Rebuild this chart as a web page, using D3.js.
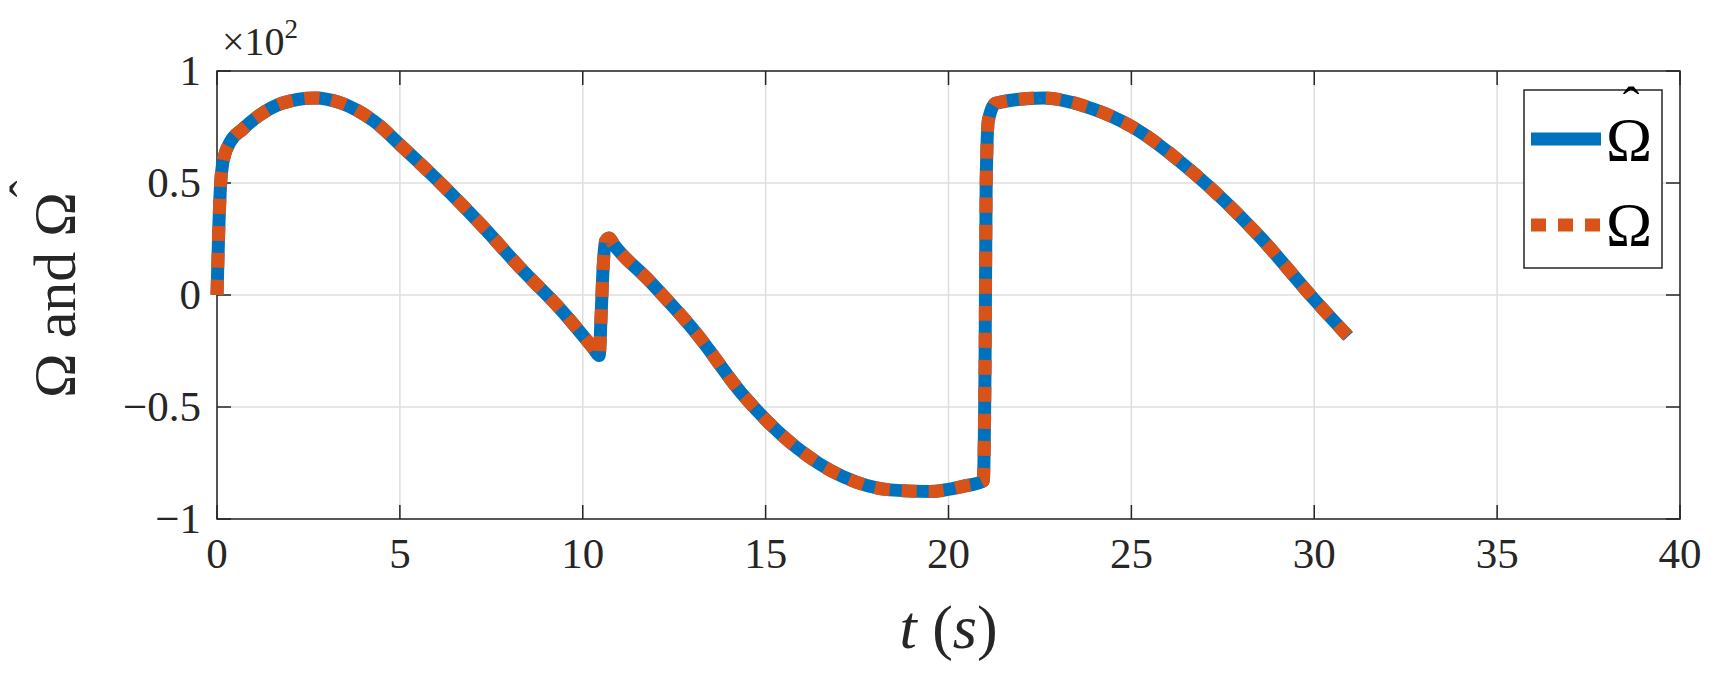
<!DOCTYPE html>
<html><head><meta charset="utf-8">
<script src="https://cdn.jsdelivr.net/npm/d3@7"></script>
<style>body{margin:0;background:#fff}</style></head>
<body><svg id="c" width="1717" height="679"></svg>
<script>
const tVals = [0,0.05,0.1,0.15,0.2,0.35,0.7,1.14,1.8,2.67,3.4,4.3,5.1,6.2,7.26,8.3,9.4,10.3,10.45,10.5,10.55,10.62,10.72,10.85,11.78,13.1,14.4,15.8,17.1,18.4,19.5,20.4,20.95,21.0,21.03,21.09,21.3,22.6,23.96,25,26.7,28.5,30,30.93];
const omegaVals = [0,0.3,0.5,0.58,0.62,0.68,0.74,0.80,0.857,0.88,0.857,0.775,0.656,0.485,0.307,0.12,-0.065,-0.24,-0.27,-0.1,0.1,0.24,0.255,0.225,0.07,-0.17,-0.45,-0.675,-0.81,-0.87,-0.877,-0.854,-0.83,-0.3,0.5,0.78,0.857,0.88,0.83,0.753,0.545,0.262,-0.02,-0.185];
const xTicks = [0,5,10,15,20,25,30,35,40];
const yTicks = [-1,-0.5,0,0.5,1];
const yTickLabels = ["\u22121","\u22120.5","0","0.5","1"];
const seriesNames = ["\u03A9","\u03A9"];

const svg = d3.select("#c");
const L=217,R=1680,T=71,B=519;
const x=d3.scaleLinear().domain([0,40]).range([L,R]);
const y=d3.scaleLinear().domain([-1,1]).range([B,T]);
const font="'Liberation Serif', 'DejaVu Serif', serif";
const g=svg.append("g");
g.selectAll(".gx").data(xTicks).enter().append("line").attr("x1",d=>x(d)).attr("x2",d=>x(d)).attr("y1",T).attr("y2",B).attr("stroke","#dedede").attr("stroke-width",1.5);
g.selectAll(".gy").data(yTicks).enter().append("line").attr("y1",d=>y(d)).attr("y2",d=>y(d)).attr("x1",L).attr("x2",R).attr("stroke","#dedede").attr("stroke-width",1.5);
const tl=14;
xTicks.forEach(d=>{[[B,B-tl],[T,T+tl]].forEach(p=>g.append("line").attr("x1",x(d)).attr("x2",x(d)).attr("y1",p[0]).attr("y2",p[1]).attr("stroke","#262626").attr("stroke-width",1.5));});
yTicks.forEach(d=>{[[L,L+tl],[R,R-tl]].forEach(p=>g.append("line").attr("y1",y(d)).attr("y2",y(d)).attr("x1",p[0]).attr("x2",p[1]).attr("stroke","#262626").attr("stroke-width",1.5));});
g.append("rect").attr("x",L).attr("y",T).attr("width",R-L).attr("height",B-T).attr("fill","none").attr("stroke","#262626").attr("stroke-width",1.5);
g.selectAll(".xl").data(xTicks).enter().append("text").attr("x",d=>x(d)).attr("y",568).attr("text-anchor","middle").attr("font-family",font).attr("font-size",43).attr("fill","#262626").text(d=>d);
g.selectAll(".yl").data(yTicks).enter().append("text").attr("x",L-16).attr("y",d=>y(d)+14).attr("text-anchor","end").attr("font-family",font).attr("font-size",43).attr("fill","#262626").text((d,i)=>yTickLabels[i]);
g.append("text").attr("x",222).attr("y",55).attr("font-family",font).attr("font-size",40).attr("fill","#262626").text("\u00D710").append("tspan").attr("dy",-17).attr("font-size",27).text("2");
g.append("text").attr("x",(L+R)/2).attr("y",648).attr("text-anchor","middle").attr("font-family",font).attr("font-size",62).attr("fill","#262626").html("<tspan font-style='italic'>t</tspan> (<tspan font-style='italic'>s</tspan>)");
const yl=g.append("g").attr("transform",`translate(75,${(T+B)/2}) rotate(-90)`);
yl.append("text").attr("text-anchor","middle").attr("font-family",font).attr("font-size",60).attr("fill","#262626").text("\u03A9 and \u03A9");
yl.append("text").attr("x",106).attr("y",-30).attr("text-anchor","middle").attr("font-family",font).attr("font-size",50).attr("fill","#262626").text("\u02C6");
const data=tVals.map((t,i)=>[t,omegaVals[i]]);
const line=d3.line().x(d=>x(d[0])).y(d=>y(d[1])).curve(d3.curveMonotoneX);
svg.append("path").attr("d",line(data)).attr("fill","none").attr("stroke","#0072BD").attr("stroke-width",13);
svg.append("path").attr("d",line(data)).attr("fill","none").attr("stroke","#D95319").attr("stroke-width",13).attr("stroke-dasharray","15,12");
const lg=svg.append("g");
lg.append("rect").attr("x",1524).attr("y",90).attr("width",138).attr("height",178).attr("fill","#fff").attr("stroke","#262626").attr("stroke-width",1.5);
lg.append("line").attr("x1",1531).attr("x2",1601).attr("y1",139).attr("y2",139).attr("stroke","#0072BD").attr("stroke-width",13);
lg.append("line").attr("x1",1531).attr("x2",1601).attr("y1",225).attr("y2",225).attr("stroke","#D95319").attr("stroke-width",13).attr("stroke-dasharray","15,12");
lg.append("text").attr("x",1606).attr("y",160).attr("font-family",font).attr("font-size",62).attr("fill","#000").text(seriesNames[0]);
lg.append("text").attr("x",1631).attr("y",122).attr("text-anchor","middle").attr("font-family",font).attr("font-size",50).attr("fill","#000").text("\u02C6");
lg.append("text").attr("x",1606).attr("y",245).attr("font-family",font).attr("font-size",62).attr("fill","#000").text(seriesNames[1]);
</script></body></html>
